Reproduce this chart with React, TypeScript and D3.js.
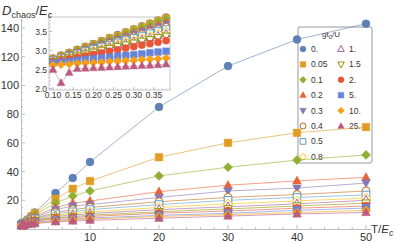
import React from "react";
import * as d3 from "d3";

// legend / series labels (g t0 / U)
const seriesNames = ["0.", "0.05", "0.1", "0.2", "0.3", "0.4", "0.5", "0.8", "1.", "1.5", "2.", "5.", "10.", "25."];
const colors = ["#5E81B5", "#E19C24", "#8FB032", "#EB6235", "#8778B3", "#C56E1A", "#5D9EC7", "#FFBF00", "#A5609D", "#929600", "#E95536", "#6685D9", "#F89F13", "#BC5B80"];
const shapes = ["circle", "square", "diamond", "up", "down", "circle", "square", "diamond", "up", "down", "circle", "square", "diamond", "up"];
const filled = [true, true, true, true, true, false, false, false, false, false, true, true, true, true];

// small temperatures (shown in the inset)
const tSmall = [0.10, 0.12, 0.14, 0.16, 0.18, 0.20, 0.22, 0.24, 0.26, 0.28, 0.30, 0.32, 0.34, 0.36, 0.38];
// larger temperatures
const tLarge = [0.5, 1, 1.5, 2, 5, 7.5, 10, 20, 30, 40, 50];

const smallValues = [
  [2.80, 2.88, 2.95, 3.03, 3.11, 3.18, 3.26, 3.34, 3.42, 3.49, 3.57, 3.65, 3.72, 3.80, 3.88],
  [2.79, 2.87, 2.94, 3.02, 3.10, 3.17, 3.25, 3.33, 3.40, 3.48, 3.56, 3.63, 3.71, 3.79, 3.86],
  [2.78, 2.86, 2.93, 3.01, 3.08, 3.16, 3.23, 3.31, 3.38, 3.46, 3.53, 3.61, 3.68, 3.76, 3.83],
  [2.77, 2.84, 2.91, 2.98, 3.05, 3.12, 3.19, 3.26, 3.33, 3.40, 3.47, 3.54, 3.61, 3.68, 3.75],
  [2.76, 2.83, 2.90, 2.96, 3.03, 3.10, 3.16, 3.23, 3.30, 3.36, 3.43, 3.50, 3.56, 3.63, 3.70],
  [2.75, 2.81, 2.88, 2.94, 3.00, 3.06, 3.12, 3.19, 3.25, 3.31, 3.37, 3.43, 3.50, 3.56, 3.62],
  [2.74, 2.80, 2.86, 2.92, 2.98, 3.04, 3.10, 3.15, 3.21, 3.27, 3.33, 3.39, 3.45, 3.51, 3.56],
  [2.73, 2.79, 2.84, 2.90, 2.95, 3.01, 3.06, 3.12, 3.17, 3.23, 3.28, 3.34, 3.39, 3.45, 3.50],
  [2.72, 2.77, 2.83, 2.88, 2.93, 2.98, 3.03, 3.09, 3.14, 3.19, 3.24, 3.29, 3.34, 3.39, 3.44],
  [2.71, 2.76, 2.81, 2.86, 2.91, 2.96, 3.01, 3.06, 3.11, 3.15, 3.20, 3.25, 3.29, 3.34, 3.38],
  [2.70, 2.74, 2.78, 2.82, 2.86, 2.90, 2.94, 2.98, 3.02, 3.06, 3.10, 3.14, 3.18, 3.22, 3.26],
  [2.67, 2.69, 2.71, 2.74, 2.76, 2.78, 2.80, 2.82, 2.85, 2.87, 2.89, 2.91, 2.94, 2.96, 2.98],
  [2.62, 2.63, 2.64, 2.66, 2.67, 2.68, 2.69, 2.71, 2.72, 2.73, 2.74, 2.76, 2.77, 2.78, 2.80],
  [2.50, 2.15, 2.42, 2.52, 2.53, 2.54, 2.55, 2.56, 2.57, 2.58, 2.59, 2.60, 2.61, 2.62, 2.64],
];

const largeValues = [
  [4.6, 6.6, 9.0, 11.5, 25, 35.5, 46.7, 85, 113.5, 132, 143],
  [4.5, 6.4, 8.6, 11.0, 21, 28, 33.4, 50, 60, 67, 71],
  [4.4, 6.2, 8.2, 10.0, 18, 23, 26.5, 37, 43, 48, 51.6],
  [4.3, 5.9, 7.5, 8.8, 15, 18, 19.5, 26, 30.5, 33.5, 36],
  [4.2, 5.7, 7.0, 8.0, 13.5, 16, 17, 22, 26.5, 28.5, 32],
  [4.1, 5.5, 6.6, 7.5, 11.5, 13.5, 15, 19, 22, 24, 26.5],
  [4.0, 5.3, 6.3, 7.0, 10.5, 12, 13.5, 17, 20, 22, 23.7],
  [3.9, 5.1, 5.9, 6.5, 9.5, 10.8, 11.8, 15, 17.5, 19.5, 21.6],
  [3.8, 4.9, 5.6, 6.2, 8.7, 9.7, 10.7, 13.5, 15.5, 17.5, 20],
  [3.7, 4.7, 5.3, 5.8, 7.8, 8.7, 9.6, 12, 14, 16, 18],
  [3.5, 4.3, 4.9, 5.4, 7.2, 8.0, 8.7, 11, 12.5, 14.5, 16],
  [3.2, 3.8, 4.3, 4.7, 6.2, 6.9, 7.6, 9.5, 11, 13, 14.6],
  [3.0, 3.5, 3.9, 4.2, 5.6, 6.3, 7.0, 8.7, 10, 11.5, 13],
  [2.8, 3.2, 3.5, 3.8, 5.0, 5.5, 6.0, 7.5, 9, 10.5, 11.5],
];

const xTicks = [10, 20, 30, 40, 50];
const yTicks = [20, 40, 60, 80, 100, 120, 140];
const insetXTicks = [0.10, 0.15, 0.20, 0.25, 0.30, 0.35];
const insetYTicks = [2.0, 2.5, 3.0, 3.5];

const font = "'Liberation Sans', Arial, sans-serif";
const axisCol = "#bdbdbd";
const textCol = "#333";

function markerPath(shape: string, s: number) {
  switch (shape) {
    case "circle":
      return d3.symbol(d3.symbolCircle, Math.PI * s * s)() as string;
    case "square":
      return `M${-s * 0.95},${-s * 0.95}h${1.9 * s}v${1.9 * s}h${-1.9 * s}Z`;
    case "diamond":
      return `M0,${-s * 1.15}L${s * 1.15},0L0,${s * 1.15}L${-s * 1.15},0Z`;
    case "up":
      return `M0,${-s * 1.2}L${s * 1.1},${s * 0.8}L${-s * 1.1},${s * 0.8}Z`;
    default:
      return `M0,${s * 1.2}L${s * 1.1},${-s * 0.8}L${-s * 1.1},${-s * 0.8}Z`;
  }
}

function Marker({ i, cx, cy, s }: { i: number; cx: number; cy: number; s: number }) {
  return (
    <path
      d={markerPath(shapes[i], s)}
      transform={`translate(${cx},${cy})`}
      fill={filled[i] ? colors[i] : "white"}
      stroke={colors[i]}
      strokeWidth={filled[i] ? 0.4 : 1}
    />
  );
}

export default function App() {
  const W = 395, H = 243;
  const x = d3.scaleLinear().domain([0, 50]).range([21, 366]);
  const y = d3.scaleLinear().domain([0, 140]).range([229, 28]);

  const ix = d3.scaleLinear().domain([0.1, 0.35]).range([53, 154]);
  const iy = d3.scaleLinear().domain([2.0, 3.5]).range([88.5, 31.5]);
  const inset = { x0: 49, x1: 170, y0: 17, y1: 90 };

  const allT = tSmall.concat(tLarge);
  const mainLine = d3.line<number[]>().x((d) => x(d[0])).y((d) => y(d[1]));
  const insetLine = d3.line<number[]>().x((d) => ix(d[0])).y((d) => iy(d[1]));

  const xMinor = d3.range(2, 51, 2).filter((v) => v % 10 !== 0);
  const yMinor = d3.range(5, 146, 5).filter((v) => v % 20 !== 0);
  const ixMinor = d3.range(0.1, 0.39, 0.01);
  const iyMinor = d3.range(2.0, 3.95, 0.1);

  return (
    <svg width={W} height={H} style={{ position: "absolute", left: 0, top: 0, background: "white" }} fontFamily={font}>
      {/* main axes */}
      <line x1={21} x2={371} y1={229.5} y2={229.5} stroke={axisCol} />
      <line x1={21.5} x2={21.5} y1={19} y2={229} stroke={axisCol} />
      {xTicks.map((t) => (
        <g key={"xt" + t}>
          <line x1={x(t)} x2={x(t)} y1={229} y2={225} stroke={axisCol} />
          <text x={x(t)} y={241} fontSize={11} textAnchor="middle" fill={textCol}>{t}</text>
        </g>
      ))}
      {xMinor.map((t) => (
        <line key={"xm" + t} x1={x(t)} x2={x(t)} y1={229} y2={227} stroke={axisCol} />
      ))}
      {yTicks.map((t) => (
        <g key={"yt" + t}>
          <line x1={21} x2={25} y1={y(t)} y2={y(t)} stroke={axisCol} />
          <text x={19} y={y(t) + 4} fontSize={11} textAnchor="end" fill={textCol}>{t}</text>
        </g>
      ))}
      {yMinor.map((t) => (
        <line key={"ym" + t} x1={21} x2={23} y1={y(t)} y2={y(t)} stroke={axisCol} />
      ))}

      {/* legend */}
      <rect x={298} y={27} width={74} height={136} fill="white" stroke="#999" strokeWidth={1} rx={2} />
      <text x={331} y={37} fontSize={8} textAnchor="middle" fill={textCol}>
        gt<tspan fontSize={6} dy={2}>0</tspan><tspan dy={-2}>/U</tspan>
      </text>
      {seriesNames.map((name, i) => {
        const col = i < 8 ? 0 : 1;
        const row = i < 8 ? i : i - 8;
        const mx = col === 0 ? 303 : 341;
        const my = 49 + row * 15.4;
        return (
          <g key={"lg" + i}>
            <Marker i={i} cx={mx} cy={my} s={3} />
            <text x={mx + 8} y={my + 3} fontSize={8.5} fill={textCol}>{name}</text>
          </g>
        );
      })}

      {/* main data */}
      {seriesNames.map((_, i) => {
        const pts = allT.map((t, j) => [t, j < tSmall.length ? smallValues[i][j] : largeValues[i][j - tSmall.length]]);
        return (
          <g key={"s" + i}>
            <path d={mainLine(pts) as string} fill="none" stroke={colors[i]} strokeOpacity={0.6} strokeWidth={1} />
            {pts.map((p, j) => (
              <Marker key={j} i={i} cx={x(p[0])} cy={y(p[1])} s={4} />
            ))}
          </g>
        );
      })}

      {/* inset */}
      <rect x={inset.x0} y={inset.y0} width={inset.x1 - inset.x0} height={inset.y1 - inset.y0} fill="white" stroke="#c8c8c8" strokeWidth={1} />
      {ixMinor.map((t, k) => (
        <line key={"ixm" + k} x1={ix(t)} x2={ix(t)} y1={inset.y1} y2={inset.y1 - 1.5} stroke={axisCol} />
      ))}
      {iyMinor.map((t, k) => (
        <line key={"iym" + k} x1={inset.x0} x2={inset.x0 + 1.5} y1={iy(t)} y2={iy(t)} stroke={axisCol} />
      ))}
      {insetXTicks.map((t) => (
        <g key={"ixt" + t}>
          <line x1={ix(t)} x2={ix(t)} y1={inset.y1} y2={inset.y1 - 3} stroke={axisCol} />
          <text x={ix(t)} y={97.5} fontSize={8.5} textAnchor="middle" fill={textCol}>{t.toFixed(2)}</text>
        </g>
      ))}
      {insetYTicks.map((t) => (
        <g key={"iyt" + t}>
          <line x1={inset.x0} x2={inset.x0 + 3} y1={iy(t)} y2={iy(t)} stroke={axisCol} />
          <text x={47} y={iy(t) + 3} fontSize={8.5} textAnchor="end" fill={textCol}>{t.toFixed(1)}</text>
        </g>
      ))}
      {seriesNames.map((_, i) => {
        const pts = tSmall.map((t, j) => [t, smallValues[i][j]]);
        return (
          <g key={"is" + i}>
            <path d={insetLine(pts) as string} fill="none" stroke={colors[i]} strokeOpacity={0.6} strokeWidth={0.8} />
            {pts.map((p, j) => (
              <Marker key={j} i={i} cx={ix(p[0])} cy={iy(p[1])} s={3.6} />
            ))}
          </g>
        );
      })}

      {/* axis labels */}
      <text x={2} y={15} fontSize={13} fill={textCol}>
        <tspan fontStyle="italic">D</tspan>
        <tspan fontSize={9} dy={3}>chaos</tspan>
        <tspan dy={-3}>/</tspan>
        <tspan fontStyle="italic">E</tspan>
        <tspan fontSize={9} dy={3} fontStyle="italic">c</tspan>
      </text>
      <text x={371} y={233} fontSize={11.5} fill={textCol}>
        T/<tspan fontStyle="italic">E</tspan>
        <tspan fontSize={8.5} dy={3} fontStyle="italic">c</tspan>
      </text>
    </svg>
  );
}
